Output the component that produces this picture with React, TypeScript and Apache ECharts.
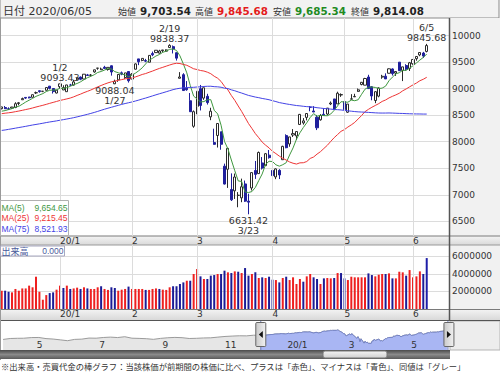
import React, { useEffect, useRef } from "react";
import * as echarts from "echarts";

// ---------- data (NASDAQ-style daily candles) ----------
const dates = [
  "2019-12-06","2019-12-09","2019-12-10","2019-12-11","2019-12-12","2019-12-13","2019-12-16","2019-12-17","2019-12-18","2019-12-19","2019-12-20","2019-12-23","2019-12-24","2019-12-26","2019-12-27","2019-12-30","2019-12-31",
  "2020-01-02","2020-01-03","2020-01-06","2020-01-07","2020-01-08","2020-01-09","2020-01-10","2020-01-13","2020-01-14","2020-01-15","2020-01-16","2020-01-17","2020-01-21","2020-01-22","2020-01-23","2020-01-24","2020-01-27","2020-01-28","2020-01-29","2020-01-30","2020-01-31",
  "2020-02-03","2020-02-04","2020-02-05","2020-02-06","2020-02-07","2020-02-10","2020-02-11","2020-02-12","2020-02-13","2020-02-14","2020-02-18","2020-02-19","2020-02-20","2020-02-21","2020-02-24","2020-02-25","2020-02-26","2020-02-27","2020-02-28",
  "2020-03-02","2020-03-03","2020-03-04","2020-03-05","2020-03-06","2020-03-09","2020-03-10","2020-03-11","2020-03-12","2020-03-13","2020-03-16","2020-03-17","2020-03-18","2020-03-19","2020-03-20","2020-03-23","2020-03-24","2020-03-25","2020-03-26","2020-03-27","2020-03-30","2020-03-31",
  "2020-04-01","2020-04-02","2020-04-03","2020-04-06","2020-04-07","2020-04-08","2020-04-09","2020-04-13","2020-04-14","2020-04-15","2020-04-16","2020-04-17","2020-04-20","2020-04-21","2020-04-22","2020-04-23","2020-04-24","2020-04-27","2020-04-28","2020-04-29","2020-04-30",
  "2020-05-01","2020-05-04","2020-05-05","2020-05-06","2020-05-07","2020-05-08","2020-05-11","2020-05-12","2020-05-13","2020-05-14","2020-05-15","2020-05-18","2020-05-19","2020-05-20","2020-05-21","2020-05-22","2020-05-26","2020-05-27","2020-05-28","2020-05-29",
  "2020-06-01","2020-06-02","2020-06-03","2020-06-04","2020-06-05",
];
const opens = [
  8623,8646,8620,8634,8646,8721,8792,8836,8844,8838,8922,8962,8951,8970,9049,9004,8919,
  9039,8977,8944,9070,9068,9181,9220,9183,9260,9253,9317,9386,9357,9405,9362,9433,9093,9168,9300,9211,9324,
  9183,9368,9563,9534,9530,9500,9663,9681,9671,9718,9708,9778,9794,9679,9197,9265,9010,8773,8292,
  8667,9001,8823,8857,8469,7984,8118,8188,7539,7481,7099,7074,6989,6941,7204,6879,7128,7458,7399,7600,7549,7747,
  7459,7336,7460,7661,8116,7958,8127,8110,8326,8355,8459,8651,8580,8462,8414,8518,8522,8712,8807,8713,8882,
  8757,8557,8803,8847,8950,9080,9067,9221,9037,8778,8860,9219,9237,9292,9373,9295,9501,9346,9438,9382,
  9471,9566,9637,9673,9703.54,
];
const highs = [
  8658,8674,8649,8658,8745,8750,8832,8836,8846,8887,8946,8968,8957,9022,9052,9007,8973,
  9093.43,9065,9072,9092,9168,9204,9231,9274,9279,9276,9357,9390,9398,9432,9402,9439,9171,9276,9324,9300,9324,
  9295,9477,9563,9573,9563,9629,9701,9726,9734,9731,9742,9838.37,9816,9686,9313,9293,9144,8919,8590,
  8952,9071,9018,8904,8641,8246,8344,8188,7587,7875,7403,7400,7050,7304,7268,7020,7421,7637,7815,7711,7788,7844,
  7550,7498,7483,7924,8140,8091,8239,8194,8524,8446,8541,8674,8671,8505,8521,8632,8636,8760,8808,8944,8912,
  8758,8711,8897,8904,9004,9127,9205,9263,9048,8954,9025,9262,9290,9383,9384,9326,9501,9414,9462,9505,
  9553,9608,9690,9695,9845.68,
];
const lows = [
  8611,8617,8598,8620,8633,8687,8789,8808,8818,8836,8901,8926,8935,8968,8988,8909,8912,
  9011,8975,8943,9054,9060,9159,9161,9181,9241,9231,9301,9358,9353,9382,9341,9247,9088.04,9130,9255,9185,9116,
  9180,9364,9445,9518,9501,9496,9614,9679,9663,9690,9697,9778,9665,9531,9195,8959,8962,8565,8264,
  8519,8590,8790,8701,8407,7944,7891,7849,7194,7129,6882,6921,6764,6859,6865,6631.42,7080,7299,7397,7476,7550,7681,
  7332,7294,7296,7661,7877,7906,8090,8033,8315,8323,8403,8575,8560,8220,8398,8493,8499,8691,8602,8712,8846,
  8580,8543,8796,8845,8941,9064,9067,9002,8782,8727,8838,9188,9183,9288,9249,9242,9333,9144,9338,9335,
  9451,9528,9613,9582,9685.34,
];
const closes = [
  8656.53,8621.83,8616.18,8654.05,8717.32,8734.88,8814.23,8823.36,8827.73,8887.22,8924.96,8945.65,8952.88,9022.39,9006.62,8945.99,8972.6,
  9092.19,9020.77,9071.47,9068.58,9129.24,9203.43,9178.86,9273.93,9251.33,9258.7,9357.13,9388.94,9370.81,9383.77,9402.48,9314.91,9139.31,9269.68,9275.16,9298.93,9150.94,
  9273.4,9467.97,9508.68,9572.15,9520.51,9628.39,9638.94,9725.96,9711.97,9731.18,9732.74,9817.18,9750.97,9576.59,9221.28,8965.61,8980.78,8566.48,8567.37,
  8952.17,8684.09,9018.09,8738.6,8575.62,7950.68,8344.25,7952.05,7201.8,7874.88,6904.59,7334.78,6989.84,7150.58,6879.52,6860.67,7417.86,7384.3,7797.54,7502.38,7774.15,7700.1,
  7360.58,7487.31,7373.08,7913.24,7887.26,8090.9,8153.58,8192.42,8515.74,8393.18,8532.36,8650.14,8560.73,8263.23,8495.38,8494.75,8634.52,8730.16,8607.73,8914.71,8889.55,
  8604.95,8710.72,8809.12,8854.39,8979.66,9121.32,9192.34,9002.55,8863.17,8943.72,9014.56,9234.83,9185.1,9375.78,9284.88,9324.59,9340.22,9412.36,9368.99,9489.87,
  9552.05,9608.38,9682.91,9615.81,9814.08,
];
const volumes = [
  2090000,2090000,1970000,1900000,2290000,2090000,2350000,2350000,2670000,2480000,3690000,1970000,1060000,1590000,1820000,1900000,2210000,
  2670000,2400000,2670000,2290000,2350000,2440000,2290000,2480000,2350000,2290000,2290000,2480000,2600000,2290000,2180000,2480000,2400000,2090000,2210000,2290000,2560000,
  2290000,2290000,2290000,2290000,2180000,2180000,2290000,2350000,2290000,2210000,2180000,2480000,2600000,2600000,2860000,3040000,3230000,3230000,4000000,
  4570000,3730000,3430000,3430000,3810000,3880000,4000000,4000000,4380000,4190000,4110000,4300000,4260000,4110000,4680000,3810000,4000000,4190000,3540000,3620000,3540000,3690000,
  3350000,3310000,3040000,3540000,3690000,3310000,3620000,2860000,3430000,3120000,3730000,4000000,3620000,3430000,2860000,3500000,3540000,3500000,3540000,4110000,4110000,
  3500000,3310000,3690000,3620000,3620000,3620000,3620000,4070000,3880000,3730000,3920000,4000000,4000000,4070000,3500000,3500000,4260000,4190000,3810000,4450000,
  3620000,3730000,4300000,4000000,5820000,
];
// closes of the 74 sessions before the first candle (for the moving averages)
const preCloses = [
  7991.39,7751.77,7853.74,7826.95,7856.88,7973.39,7962.88,
  7874.16,7976.88,8116.83,8103.07,8087.44,8084.16,8169.68,8194.47,8176.71,8153.54,8186.02,8177.39,8182.88,8117.67,8112.46,7993.63,8077.38,8030.66,7939.63,7999.34,
  7908.68,7785.25,7872.27,7982.47,7956.29,7823.78,7903.74,7950.78,8057.04,8048.65,8148.71,8124.18,8156.85,8089.54,8162.99,8104.3,8119.79,8185.8,8243.12,8325.99,8276.85,8303.98,8292.36,
  8386.4,8433.2,8434.68,8410.63,8434.52,8475.31,8464.28,8486.09,8482.1,8479.02,8540.83,8549.94,8570.66,8526.73,8506.21,8519.88,8632.49,8647.93,8705.18,8665.47,
  8567.99,8520.64,8566.67,8570.7,
];
const blankSlots = ["b1", "b2", "b3", "b4", "b5", "b6"];
const priceTicks = [6500, 7000, 7500, 8000, 8500, 9000, 9500, 10000];
const volumeTicks = [2000000, 4000000, 6000000];
const maPeriods = [5, 25, 75];
const maLegendValues = ["9,654.65", "9,215.45", "8,521.93"];
const noteDates = ["2020-01-02", "2020-01-27", "2020-02-19", "2020-03-23", "2020-06-05"];
const noteValues = [9093.43, 9088.04, 9838.37, 6631.42, 9845.68];
const noteSides = ["top", "bottom", "top", "bottom", "top"];
const selectedDate = "2020-06-05";
// navigator: weekly closes before the daily window
const navWeekDates = [
  "2019-03-29","2019-04-05","2019-04-12","2019-04-18","2019-04-26","2019-05-03","2019-05-10","2019-05-17","2019-05-24","2019-05-31",
  "2019-06-07","2019-06-14","2019-06-21","2019-06-28","2019-07-05","2019-07-12","2019-07-19","2019-07-26","2019-08-02","2019-08-09",
  "2019-08-16","2019-08-23","2019-08-30","2019-09-06","2019-09-13","2019-09-20","2019-09-27","2019-10-04","2019-10-11","2019-10-18",
  "2019-10-25","2019-11-01","2019-11-08","2019-11-15","2019-11-22","2019-11-29",
];
const navWeekCloses = [
  7729.32,7938.69,7984.16,7998.06,8146.4,8164.0,7916.94,7816.29,7637.01,7453.15,
  7742.1,7796.66,8031.71,8006.24,8161.79,8244.14,8146.49,8330.21,8004.07,7959.14,
  7895.99,7751.77,7962.88,8103.07,8176.71,8117.67,7939.63,7982.47,8057.04,8089.54,
  8243.12,8386.4,8475.31,8540.83,8519.88,8665.47,
];
const navLabelDates = ["2019-05-01", "2019-07-01", "2019-09-01", "2019-11-01", "2020-01-01", "2020-03-01", "2020-05-01"];
const navRange = ["2019-03-26", "2020-06-08"];

// ---------- styles ----------
const NUM = "DejaVu Sans, Noto Sans CJK JP, sans-serif";
const JP = "Noto Sans CJK JP, DejaVu Sans, sans-serif";
const LEG = "Liberation Sans, Arial, sans-serif";
const MA_COLORS = ["#3f983f", "#ee3535", "#4343e6"];
const UP_VOL = "#ee2020";
const DOWN_VOL = "#1c1c96";
const SEL_VOL = "#1e1ea8";
const DOWN_CANDLE = "#1f1f9c";

const fmt2 = (v: number) =>
  v.toLocaleString("en-US", { minimumFractionDigits: 2, maximumFractionDigits: 2 });
const md = (d: string) => `${+d.slice(5, 7)}/${+d.slice(8, 10)}`;
const ts = (d: string) => Date.parse(d + "T00:00:00Z");

export default function App() {
  const ref = useRef<HTMLDivElement>(null);

  useEffect(() => {
    const el = ref.current;
    if (!el) return;
    const chart = echarts.init(el, null, { renderer: "svg", width: 500, height: 374 });

    const cats = [...dates, ...blankSlots];
    const monthStart = new Set<number>();
    dates.forEach((d, i) => {
      if (i > 0 && d.slice(5, 7) !== dates[i - 1].slice(5, 7)) monthStart.add(i);
    });
    const monthLabel = (v: string) => {
      if (!v || v.startsWith("b")) return "";
      const m = +v.slice(5, 7);
      return m === 1 ? `${v.slice(2, 4)}/1` : `${m}`;
    };
    const allCloses = [...preCloses, ...closes];
    const ma = (n: number) =>
      closes.map((_, i) => {
        const end = i + preCloses.length;
        let s = 0;
        for (let k = end - n + 1; k <= end; k++) s += allCloses[k];
        return +(s / n).toFixed(2);
      });
    const candleData = dates.map((_, i) => [opens[i], closes[i], lows[i], highs[i]]);
    const volData = volumes.map((v, i) => {
      const prev = i === 0 ? preCloses[preCloses.length - 1] : closes[i - 1];
      let c = closes[i] > prev ? UP_VOL : closes[i] < prev ? DOWN_VOL : "#999999";
      if (dates[i] === selectedDate) c = SEL_VOL; // cursor-selected session
      return { value: v, itemStyle: { color: c } };
    });
    const monthLines = [...monthStart].map((i) => ({ xAxis: dates[i] }));
    const navAll = [
      ...navWeekDates.map((d, i) => [ts(d), navWeekCloses[i]]),
      ...dates.map((d, i) => [ts(d), closes[i]]),
    ];
    const navSel = dates.map((d, i) => [ts(d), closes[i]]);

    const catAxis = (gridIndex: number) => ({
      type: "category",
      gridIndex,
      data: cats,
      boundaryGap: true,
      axisLine: { show: false },
      axisTick: { show: false },
      splitLine: { show: false },
      axisLabel: {
        interval: (i: number) => monthStart.has(i),
        formatter: monthLabel,
        align: "left",
        margin: 0,
        fontSize: 9,
        color: "#333",
        fontFamily: NUM,
      },
    });

    const last = dates.length - 1;
    const hdrY = 11;
    const mid = { verticalAlign: "middle", textVerticalAlign: "middle" };
    const baseGraphics: any[] = [
      // header
      { id: "hdr", type: "rect", z: -10, shape: { x: 0, y: -1, width: 499, height: 19 }, style: { fill: "#f2f2f2", stroke: "#8a8a8a", lineWidth: 1 } },
      { id: "hdrDate", type: "text", x: 3, y: hdrY, style: { text: `日付 ${dates[last].replace(/-/g, "/")}`, fontSize: 11, fontFamily: NUM, fill: "#333", ...mid } },
      { id: "h1", type: "text", x: 118, y: hdrY + 0.5, style: { text: "始値", fontSize: 9, fontFamily: JP, fill: "#333", ...mid } },
      { id: "h1v", type: "text", x: 140, y: hdrY, style: { text: fmt2(opens[last]), fontSize: 10.3, fontWeight: "bold", fontFamily: NUM, fill: "#222", ...mid } },
      { id: "h2", type: "text", x: 195, y: hdrY + 0.5, style: { text: "高値", fontSize: 9, fontFamily: JP, fill: "#333", ...mid } },
      { id: "h2v", type: "text", x: 217, y: hdrY, style: { text: fmt2(highs[last]), fontSize: 10.3, fontWeight: "bold", fontFamily: NUM, fill: "#e41b1b", ...mid } },
      { id: "h3", type: "text", x: 273, y: hdrY + 0.5, style: { text: "安値", fontSize: 9, fontFamily: JP, fill: "#333", ...mid } },
      { id: "h3v", type: "text", x: 295, y: hdrY, style: { text: fmt2(lows[last]), fontSize: 10.3, fontWeight: "bold", fontFamily: NUM, fill: "#1f8a1f", ...mid } },
      { id: "h4", type: "text", x: 351, y: hdrY + 0.5, style: { text: "終値", fontSize: 9, fontFamily: JP, fill: "#333", ...mid } },
      { id: "h4v", type: "text", x: 373, y: hdrY, style: { text: fmt2(closes[last]), fontSize: 10.3, fontWeight: "bold", fontFamily: NUM, fill: "#222", ...mid } },
      // right axis backgrounds
      { id: "ax1", type: "rect", z: -10, shape: { x: 449, y: 18, width: 51, height: 218 }, style: { fill: "#f1f1f1" } },
      { id: "ax2", type: "rect", z: -10, shape: { x: 449, y: 245, width: 51, height: 64 }, style: { fill: "#f1f1f1" } },
      // date bands
      { id: "band1", type: "rect", z: -10, shape: { x: 0, y: 236, width: 500, height: 9 }, style: { fill: new echarts.graphic.LinearGradient(0, 0, 0, 1, [{ offset: 0, color: "#f4f4f4" }, { offset: 1, color: "#d9d9d9" }]) } },
      { id: "band1t", type: "line", z: 5, shape: { x1: 0, y1: 236, x2: 500, y2: 236 }, style: { stroke: "#7a7a7a", lineWidth: 1 } },
      { id: "band1b", type: "line", z: 5, shape: { x1: 0, y1: 245, x2: 500, y2: 245 }, style: { stroke: "#9a9a9a", lineWidth: 1 } },
      { id: "band2", type: "rect", z: -10, shape: { x: 0, y: 309, width: 500, height: 11 }, style: { fill: new echarts.graphic.LinearGradient(0, 0, 0, 1, [{ offset: 0, color: "#f4f4f4" }, { offset: 1, color: "#d9d9d9" }]) } },
      { id: "band2t", type: "line", z: 5, shape: { x1: 0, y1: 309.5, x2: 500, y2: 309.5 }, style: { stroke: "#7a7a7a", lineWidth: 1 } },
      { id: "band2b", type: "line", z: 5, shape: { x1: 0, y1: 320.5, x2: 500, y2: 320.5 }, style: { stroke: "#555", lineWidth: 1.2 } },
      // frame lines
      { id: "lft", type: "line", z: 5, shape: { x1: 0.5, y1: 18, x2: 0.5, y2: 360 }, style: { stroke: "#9a9a9a", lineWidth: 1 } },
      { id: "rgt", type: "line", z: 5, shape: { x1: 449.5, y1: 18, x2: 449.5, y2: 320 }, style: { stroke: "#555", lineWidth: 1.5 } },
      // MA legend
      { id: "legBox", type: "rect", z: 50, shape: { x: 0.5, y: 200.5, width: 68, height: 35 }, style: { fill: "rgba(255,255,255,0.9)", stroke: "#b0b0b0", lineWidth: 1 } },
      ...maPeriods.flatMap((p, k) => [
        { id: `legN${k}`, type: "text", z: 51, x: 1.5, y: 207.5 + k * 10.5, style: { text: `MA(${p})`, fontSize: 8.5, fontFamily: LEG, fill: MA_COLORS[k], ...mid } },
        { id: `legV${k}`, type: "text", z: 51, x: 67.5, y: 207.5 + k * 10.5, style: { text: maLegendValues[k], fontSize: 8.5, fontFamily: LEG, fill: MA_COLORS[k], align: "right", textAlign: "right", ...mid } },
      ]),
      // volume title
      { id: "volBox", type: "rect", z: 50, shape: { x: 0.5, y: 246, width: 64, height: 10 }, style: { fill: "rgba(255,255,255,0.9)", stroke: "#a8a8c0", lineWidth: 1 } },
      { id: "volT", type: "text", z: 51, x: 1.5, y: 251, style: { text: "出来高", fontSize: 9, fontFamily: JP, fill: "#4b5b9c", ...mid } },
      { id: "volV", type: "text", z: 51, x: 63.5, y: 251, style: { text: "0.000", fontSize: 8.5, fontFamily: LEG, fill: "#4b5b9c", align: "right", textAlign: "right", ...mid } },
      // navigator right box + scrollbar
      { id: "navR", type: "rect", z: -10, shape: { x: 450, y: 321, width: 50, height: 29 }, style: { fill: "#ededed", stroke: "#b5b5b5", lineWidth: 1 } },
      { id: "scroll", type: "rect", z: 5, shape: { x: 0, y: 350, width: 450, height: 9 }, style: { fill: new echarts.graphic.LinearGradient(0, 0, 0, 1, [{ offset: 0, color: "#4a4a4a" }, { offset: 0.5, color: "#8a8a8a" }, { offset: 1, color: "#5a5a5a" }]) } },
      { id: "thumb", type: "rect", z: 6, shape: { x: 323, y: 351, width: 64, height: 7, r: 2 }, style: { fill: new echarts.graphic.LinearGradient(0, 0, 0, 1, [{ offset: 0, color: "#f4f4f4" }, { offset: 1, color: "#cfcfcf" }]), stroke: "#777", lineWidth: 1 } },
      // footnote
      { id: "foot", type: "text", x: 1, y: 365.5, style: { text: "※出来高・売買代金の棒グラフ：当該株価が前期間の株価に比べ、プラスは「赤色」、マイナスは「青色」、同値は「グレー」", fontSize: 8.3, fontFamily: JP, fill: "#333", ...mid } },
    ];

    const option: any = {
      animation: false,
      backgroundColor: "#ffffff",
      grid: [
        { left: -1, top: 18, width: 450, height: 218 },
        { left: -1, top: 245, width: 450, height: 64 },
        { left: 0, top: 321, width: 450, height: 29 },
      ],
      xAxis: [
        catAxis(0),
        catAxis(1),
        {
          type: "value",
          gridIndex: 2,
          z: 10,
          min: ts(navRange[0]),
          max: ts(navRange[1]),
          axisLine: { show: false },
          axisTick: { show: false },
          splitLine: { show: false },
          axisLabel: {
            inside: true,
            customValues: navLabelDates.map(ts),
            formatter: (v: number) => {
              const t = new Date(v);
              const m = t.getUTCMonth() + 1;
              return m === 1 ? `${String(t.getUTCFullYear()).slice(2)}/1` : `${m}`;
            },
            align: "left",
            margin: 1,
            fontSize: 9,
            color: "#333",
            fontFamily: NUM,
          },
        },
      ],
      yAxis: [
        {
          type: "value",
          gridIndex: 0,
          position: "right",
          min: 6222,
          max: 10334,
          axisLine: { show: false },
          axisTick: { show: false, customValues: priceTicks },
          axisLabel: { customValues: priceTicks, formatter: (v: number) => String(v), margin: 3, fontSize: 9, color: "#333", fontFamily: NUM },
          splitLine: { show: true, lineStyle: { color: "#dcdcdc", width: 1 } },
        },
        {
          type: "value",
          gridIndex: 1,
          position: "right",
          min: 0,
          max: 7314000,
          axisLine: { show: false },
          axisTick: { show: false, customValues: volumeTicks },
          axisLabel: { customValues: volumeTicks, formatter: (v: number) => String(v), margin: 3, fontSize: 9, color: "#333", fontFamily: NUM },
          splitLine: { show: true, lineStyle: { color: "#dcdcdc", width: 1 } },
        },
        { type: "value", gridIndex: 2, min: 5400, max: 11800, show: false, splitLine: { show: false } },
      ],
      series: [
        {
          type: "line",
          xAxisIndex: 0,
          yAxisIndex: 0,
          data: [],
          z: 1,
          silent: true,
          markLine: { silent: true, symbol: "none", label: { show: false }, lineStyle: { color: "#dcdcdc", type: "solid", width: 1 }, data: monthLines },
        },
        {
          type: "candlestick",
          xAxisIndex: 0,
          yAxisIndex: 0,
          data: candleData,
          barWidth: 2.6,
          z: 3,
          itemStyle: { color: "#ffffff", color0: DOWN_CANDLE, borderColor: "#2a2a2a", borderColor0: DOWN_CANDLE, borderWidth: 1 },
          markPoint: {
            symbol: "circle",
            symbolSize: 0,
            silent: true,
            label: { show: true, fontSize: 9.5, lineHeight: 10, color: "#333", fontFamily: NUM, distance: 1 },
            data: noteDates.map((d, k) => ({
              coord: [d, noteValues[k]],
              value: noteValues[k],
              label: {
                position: noteSides[k],
                formatter: noteSides[k] === "top" ? `${md(d)}\n${noteValues[k].toFixed(2)}` : `${noteValues[k].toFixed(2)}\n${md(d)}`,
              },
            })),
          },
        },
        ...maPeriods.map((p, k) => ({
          type: "line",
          name: `MA(${p})`,
          xAxisIndex: 0,
          yAxisIndex: 0,
          data: ma(p),
          showSymbol: false,
          symbol: "none",
          z: 4,
          lineStyle: { color: MA_COLORS[k], width: 1 },
        })),
        {
          type: "line",
          xAxisIndex: 1,
          yAxisIndex: 1,
          data: [],
          z: 1,
          silent: true,
          markLine: { silent: true, symbol: "none", label: { show: false }, lineStyle: { color: "#dcdcdc", type: "solid", width: 1 }, data: monthLines },
        },
        {
          type: "bar",
          xAxisIndex: 1,
          yAxisIndex: 1,
          data: volData,
          barWidth: 2,
          z: 3,
        },
        {
          type: "line",
          xAxisIndex: 2,
          yAxisIndex: 2,
          data: navAll,
          showSymbol: false,
          symbol: "none",
          lineStyle: { color: "#9b9b9b", width: 1 },
          areaStyle: { color: "#e6e6e6", opacity: 1, origin: "start" },
          z: 2,
        },
        {
          type: "line",
          xAxisIndex: 2,
          yAxisIndex: 2,
          data: navSel,
          showSymbol: false,
          symbol: "none",
          lineStyle: { color: "#7584c6", width: 1 },
          areaStyle: { color: "#a9b6f3", opacity: 1, origin: "start" },
          z: 3,
        },
      ],
      graphic: { elements: baseGraphics },
    };

    chart.setOption(option);

    // navigator selection handles, placed at the window's first/last session
    const xL = chart.convertToPixel({ xAxisIndex: 2 }, ts(dates[0])) as number;
    const xR = chart.convertToPixel({ xAxisIndex: 2 }, ts(dates[last])) as number;
    if (isFinite(xL) && isFinite(xR)) {
      const hGrad = new echarts.graphic.LinearGradient(1, 0, 0, 0, [
        { offset: 0, color: "#f2f2f2" },
        { offset: 1, color: "#c9c9c9" },
      ]);
      const handles: any[] = [
        { id: "selL", type: "line", z: 20, shape: { x1: xL, y1: 321, x2: xL, y2: 350 }, style: { stroke: "#6a7ab5", lineWidth: 1 } },
        { id: "selR", type: "line", z: 20, shape: { x1: xR + 1, y1: 321, x2: xR + 1, y2: 350 }, style: { stroke: "#6a7ab5", lineWidth: 1 } },
        { id: "hL", type: "rect", z: 21, shape: { x: xL - 5, y: 322.5, width: 10, height: 24, r: 1 }, style: { fill: hGrad, stroke: "#666", lineWidth: 1 } },
        { id: "hLt", type: "polygon", z: 22, shape: { points: [[xL + 2, 331], [xL + 2, 338], [xL - 2, 334.5]] }, style: { fill: "#111" } },
        { id: "hR", type: "rect", z: 21, shape: { x: xR - 3, y: 322.5, width: 10, height: 24, r: 1 }, style: { fill: hGrad, stroke: "#666", lineWidth: 1 } },
        { id: "hRt", type: "polygon", z: 22, shape: { points: [[xR, 331], [xR, 338], [xR + 4, 334.5]] }, style: { fill: "#111" } },
      ];
      chart.setOption({ graphic: { elements: [...baseGraphics, ...handles] } });
    }

    return () => chart.dispose();
  }, []);

  return (
    <div
      ref={ref}
      style={{ position: "fixed", left: 0, top: 0, width: 500, height: 374, background: "#fff" }}
    />
  );
}
